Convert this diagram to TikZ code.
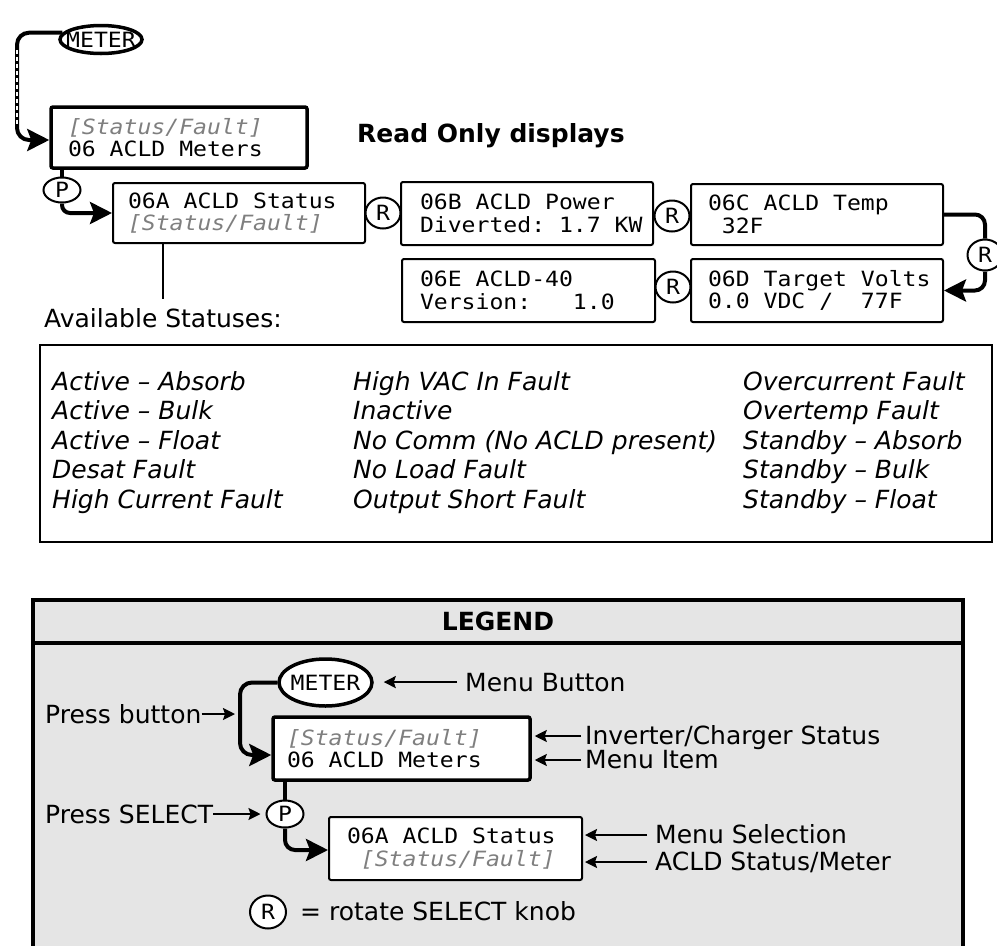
\documentclass[tikz,border=0pt]{standalone}
\usepackage{fontspec}
\setmainfont{DejaVu Sans}
\newfontfamily\monofam[FakeStretch=1.1]{DejaVu Sans Mono}
\usetikzlibrary{arrows.meta,shapes.geometric}
\definecolor{txtgray}{HTML}{7F7F7F}
\definecolor{legfill}{HTML}{E5E5E5}
\newcommand\monotxt{\monofam\fontsize{21}{22.5}\selectfont\frenchspacing}
\newcommand\ms{\hphantom{0}}
\newcommand\sanstxt{\fontsize{25}{30}\selectfont}
\newcommand\grit[1]{{\color{txtgray}\itshape #1}}
\tikzset{
  lcd/.style={draw, fill=white, rounded corners=2pt, inner ysep=0pt, align=left, font=\monotxt},
  lcdthick/.style={lcd, line width=3.5pt},
  lcdthin/.style={lcd, line width=2pt},
  knob/.style={draw, ellipse, line width=2pt, fill=white, inner sep=0pt, minimum width=35pt, minimum height=31pt, font=\monotxt},
  meterbtn/.style={draw, ellipse, line width=3.5pt, fill=white, inner sep=0pt, font=\monotxt},
  conn/.style={line width=4pt},
  bigtip/.style={-{Stealth[length=22pt,width=22pt,inset=4pt]}},
  smalltip/.style={line width=2pt, -{Stealth[length=12pt,width=12pt,inset=2pt]}},
  lbl/.style={inner sep=0pt, anchor=base west, font=\sanstxt},
  stat/.style={inner sep=0pt, anchor=base west, font=\sanstxt\itshape},
}
\begin{document}
\begin{tikzpicture}[x=1pt,y=-1pt]
\useasboundingbox (0,0) rectangle (997,946);

% ---------- top part ----------
\coordinate (mknee) at (17,140);
\coordinate (mv1) at (17,50);
\coordinate (mv2) at (17,124);
\node[meterbtn, minimum width=82pt, minimum height=28pt] (mTop) at (101,39.5) {\makebox[0pt]{METER}};
\node[lcdthick, text width=222pt, inner xsep=17pt, minimum height=61pt] (m06) at (179,137.5)
  {\grit{[Status/Fault]}\\06\ms ACLD\ms Meters};
\draw[conn, bigtip, rounded corners=12pt] (mTop.170) -| (mknee) -- ([yshift=-2.5pt]m06.west);
\draw[white, line width=1.3pt, dash pattern=on 4pt off 3pt] (mv1) -- (mv2);

\node[lbl, font=\sanstxt\bfseries] (ro) at (357,142) {Read Only displays};

\node[knob, minimum width=37pt, minimum height=25pt] (pTop) at (62,190) {P};
\node[lcdthin, text width=222pt, inner xsep=15pt, minimum height=60pt] (s6A) at (239,213)
  {06A\ms ACLD\ms Status\\\grit{[Status/Fault]}};
\draw[conn] (pTop.north |- m06.south) -- (pTop.north);
\draw[conn, bigtip, rounded corners=8pt] (pTop.south) |- (s6A.west);

\node[lcdthin, text width=214pt, inner xsep=19pt, minimum height=63pt] (s6B) at (527,213.5)
  {06B\ms ACLD\ms Power\\Diverted:\ms 1.7\ms KW};
\node[lcdthin, text width=218pt, inner xsep=17pt, minimum height=61pt] (s6C) at (817,214.5)
  {06C\ms ACLD\ms Temp\\\ms 32F};
\node[lcdthin, text width=218pt, inner xsep=17pt, minimum height=63pt] (s6D) at (817,290.5)
  {06D\ms Target\ms Volts\\0.0\ms VDC\ms /\ms\ms 77F};
\node[lcdthin, text width=217pt, inner xsep=18pt, minimum height=63pt] (s6E) at (528.5,290.5)
  {06E\ms ACLD-40\\Version:\ms\ms\ms 1.0};

\node[knob] (rAB) at (383,213) {R};
\node[knob] (rBC) at (672,216) {R};
\node[knob] (rED) at (673,287) {R};
\node[knob] (rCD) at (985,255) {R};
\draw[conn, rounded corners=10pt] (s6C.east) -| (rCD.north);
\draw[conn, bigtip, rounded corners=10pt] (rCD.south) |- (s6D.east);

\node[lbl] (avail) at (44,327) {Available Statuses:};
\draw[line width=2pt] (avail.north |- s6A.south) -- ([yshift=9pt]avail.north);

\draw[line width=2.5pt] (40,345) rectangle (992,542);
\node[stat] (a1) at (52,390)   {Active – Absorb};
\node[stat] (a2) at (52,419.6) {Active – Bulk};
\node[stat] (a3) at (52,449.2) {Active – Float};
\node[stat] (a4) at (52,478.8) {Desat Fault};
\node[stat] (a5) at (52,508.4) {High Current Fault};
\node[stat] (b1) at (353,390)   {High VAC In Fault};
\node[stat] (b2) at (353,419.6) {Inactive};
\node[stat] (b3) at (353,449.2) {No Comm (No ACLD present)};
\node[stat] (b4) at (353,478.8) {No Load Fault};
\node[stat] (b5) at (353,508.4) {Output Short Fault};
\node[stat] (c1) at (743,390)   {Overcurrent Fault};
\node[stat] (c2) at (743,419.6) {Overtemp Fault};
\node[stat] (c3) at (743,449.2) {Standby – Absorb};
\node[stat] (c4) at (743,478.8) {Standby – Bulk};
\node[stat] (c5) at (743,508.4) {Standby – Float};

% ---------- legend ----------
\draw[line width=4pt, fill=legfill] (33,600) rectangle (963,962);
\draw[line width=4pt] (33,643) -- (963,643);
\node[inner sep=0pt, anchor=base, font=\sanstxt\bfseries] (legtitle) at (498,630) {LEGEND};

\coordinate (lknee) at (240,755);
\node[meterbtn, minimum width=93pt, minimum height=47pt] (meterL) at (325.5,682.5) {\makebox[0pt]{METER}};
\node[lcdthick, text width=229pt, inner xsep=14pt, minimum height=63pt] (L1) at (401.5,748.5)
  {\grit{[Status/Fault]}\\06\ms ACLD\ms Meters};
\node[knob, minimum width=37pt, minimum height=27pt] (pL) at (285,814) {P};
\node[lcdthin, text width=217pt, inner xsep=18pt, minimum height=63pt] (L2) at (455.5,848.5)
  {06A\ms ACLD\ms Status\\\ms\grit{[Status/Fault]}};
\node[knob, minimum width=36pt, minimum height=33pt] (rL) at (268,912) {R};

\draw[conn, bigtip, rounded corners=12pt] (meterL.west) -| (lknee) -- ([yshift=-6.5pt]L1.west);
\draw[conn] (pL.north |- L1.south) -- (pL.north);
\draw[conn, bigtip, rounded corners=10pt] (pL.south) |- ([yshift=-1.5pt]L2.west);

\node[lbl] (mbl) at (465,691) {Menu Button};
\draw[smalltip, shorten <=8pt, shorten >=10pt] (mbl.west) -- (mbl.west -| meterL.east);
\node[lbl] (pbl) at (45,723) {Press button};
\draw[smalltip, shorten >=5pt] ([yshift=9pt]pbl.base east) -- ([yshift=9pt]pbl.base east -| lknee);
\node[lbl] (icl) at (585,744) {Inverter/Charger Status};
\node[lbl] (mil) at (585,768) {Menu Item};
\draw[smalltip, shorten <=4pt, shorten >=3pt] ([yshift=8pt]icl.base west) -- ([yshift=8pt]icl.base west -| L1.east);
\draw[smalltip, shorten <=4pt, shorten >=3pt] ([yshift=8pt]mil.base west) -- ([yshift=8pt]mil.base west -| L1.east);
\node[lbl] (psl) at (45,823) {Press SELECT};
\draw[smalltip, shorten >=5pt] ([yshift=9pt]psl.base east) -- ([yshift=9pt]psl.base east -| pL.west);
\node[lbl] (msl) at (655,843) {Menu Selection};
\node[lbl] (asl) at (655,870) {ACLD Status/Meter};
\draw[smalltip, shorten <=8pt, shorten >=2pt] ([yshift=8pt]msl.base west) -- ([yshift=8pt]msl.base west -| L2.east);
\draw[smalltip, shorten <=8pt, shorten >=2pt] ([yshift=8pt]asl.base west) -- ([yshift=8pt]asl.base west -| L2.east);
\node[lbl] (rtl) at (300,920) {= rotate SELECT knob};
\end{tikzpicture}
\end{document}
